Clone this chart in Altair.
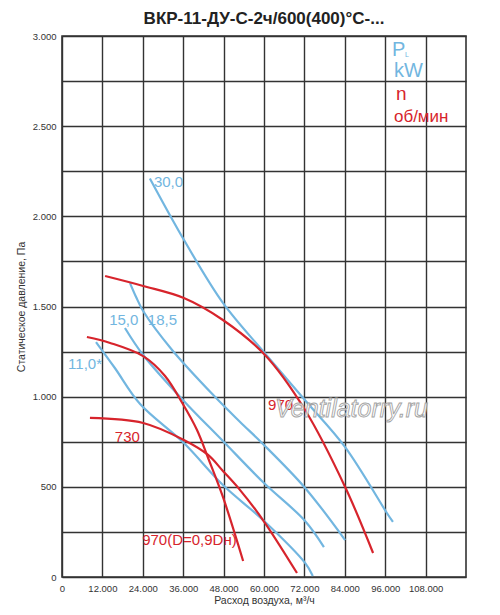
import altair as alt
import pandas as pd

# Air flow (m3/h) and static pressure (Pa)
p30_x = [26100, 36200, 47800, 60300, 72200, 84100, 96500, 98300]
p30_y = [2210, 1870, 1520, 1240, 980, 720, 355, 305]
p185_x = [20200, 22000, 24100, 32700, 45500, 52900, 59400, 72200, 84100]
p185_y = [1630, 1553, 1475, 1259, 998, 860, 743, 494, 205]
p15_x = [18700, 24100, 35900, 47800, 60000, 72200, 77800]
p15_y = [1381, 1231, 982, 754, 521, 311, 166]
p11_x = [10100, 15700, 23200, 36200, 47800, 59700, 72200, 74500]
p11_y = [1303, 1159, 959, 743, 510, 316, 78, 6]
n970_x = [12800, 24100, 36200, 47800, 60300, 72200, 84100, 92400]
n970_y = [1669, 1614, 1547, 1425, 1231, 926, 499, 133]
n970d_x = [7400, 14300, 24100, 30600, 35900, 40100, 43400, 47800, 53800]
n970d_y = [1331, 1298, 1225, 1115, 959, 815, 660, 444, 89]
n730_x = [8300, 24100, 36200, 43400, 47800, 52900, 59700, 69800]
n730_y = [882, 854, 760, 677, 588, 482, 316, 22]

blue_labels = ["30,0", "18,5", "15,0", "11,0*"]
blue_lx = [27300, 25500, 14000, 1800]
blue_ly = [2163, 1397, 1397, 1153]
red_labels = ["730", "970(D=0,9Dн)", "970"]
red_lx = [15700, 23800, 61200]
red_ly = [749, 177, 926]

x_ticks = [0, 12000, 24000, 36000, 48000, 60000, 72000, 84000, 96000, 108000]
y_ticks = [0, 250, 500, 750, 1000, 1250, 1500, 1750, 2000, 2250, 2500, 2750, 3000]

BLUE = "#72b6e0"
RED = "#d7242c"
NARROW = "Liberation Sans Narrow, Arial Narrow, Liberation Sans, Arial"
SANS = "Liberation Sans, Arial"

series = [
    ("P30", "blue", p30_x, p30_y),
    ("P18.5", "blue", p185_x, p185_y),
    ("P15", "blue", p15_x, p15_y),
    ("P11", "blue", p11_x, p11_y),
    ("n970", "red", n970_x, n970_y),
    ("n970d", "red", n970d_x, n970d_y),
    ("n730", "red", n730_x, n730_y),
]
rows = []
for name, kind, xs_, ys_ in series:
    for i, (a, b) in enumerate(zip(xs_, ys_)):
        rows.append({"s": name, "kind": kind, "q": a, "p": b, "i": i})
df = pd.DataFrame(rows)

xs = alt.Scale(domain=[0, 120000], nice=False, zero=False)
ys = alt.Scale(domain=[0, 3000], nice=False, zero=False)

X = alt.X("q:Q", scale=xs, title="Расход воздуха, м³/ч",
          axis=alt.Axis(values=x_ticks, labelExpr="replace(format(datum.value, ','), ',', '.')"))
Y = alt.Y("p:Q", scale=ys, title="Статическое давление, Па",
          axis=alt.Axis(values=y_ticks,
                        labelExpr="datum.value % 500 == 0 ? replace(format(datum.value, ','), ',', '.') : ''"))

def line_layer(kind, color):
    return alt.Chart(df[df.kind == kind]).mark_line(
        color=color, strokeWidth=2.2, interpolate="catmull-rom"
    ).encode(x=X, y=Y, detail="s:N", order="i:Q")

blue = line_layer("blue", BLUE)
red = line_layer("red", RED)

bl = pd.DataFrame({"t": blue_labels, "q": blue_lx, "p": blue_ly})
rl = pd.DataFrame({"t": red_labels, "q": red_lx, "p": red_ly})

blue_txt = alt.Chart(bl).mark_text(
    align="left", baseline="alphabetic", fontSize=15, font=SANS, color=BLUE
).encode(x=alt.X("q:Q", scale=xs), y=alt.Y("p:Q", scale=ys), text="t:N")
red_txt = alt.Chart(rl).mark_text(
    align="left", baseline="alphabetic", fontSize=15, font=NARROW, color=RED
).encode(x=alt.X("q:Q", scale=xs), y=alt.Y("p:Q", scale=ys), text="t:N")

wm = pd.DataFrame({"t": ["Ventilatorry.ru"], "q": [63300], "p": [887]})
wm_txt = alt.Chart(wm).mark_text(
    align="left", baseline="alphabetic", fontSize=25, font=SANS, fontStyle="italic",
    fill="white", fillOpacity=0.75, stroke="#a3a3a3", strokeWidth=0.9
).encode(x=alt.X("q:Q", scale=xs), y=alt.Y("p:Q", scale=ys), text="t:N")

leg_b = pd.DataFrame({"t": ["P", "kW"], "q": [98000, 98600], "p": [2889, 2773]})
leg_bs = pd.DataFrame({"t": ["L"], "q": [101900], "p": [2884]})
leg_r = pd.DataFrame({"t": ["n"], "q": [99200], "p": [2645]})
leg_r2 = pd.DataFrame({"t": ["об/мин"], "q": [98600], "p": [2523]})

def legend_text(d, color, size):
    return alt.Chart(d).mark_text(
        align="left", baseline="alphabetic", fontSize=size, font=NARROW, color=color
    ).encode(x=alt.X("q:Q", scale=xs), y=alt.Y("p:Q", scale=ys), text="t:N")

legend = (legend_text(leg_b, BLUE, 20) + legend_text(leg_bs, BLUE, 7)
          + legend_text(leg_r, RED, 19) + legend_text(leg_r2, RED, 17))

chart = alt.layer(blue, red, blue_txt, red_txt, wm_txt, legend).properties(
    width=404, height=541,
    background="white",
    autosize=alt.AutoSizeParams(type="none"),
    padding={"left": 54, "top": 28, "right": 26, "bottom": 30},
    title=alt.TitleParams("ВКР-11-ДУ-С-2ч/600(400)°С-...", fontSize=17, fontWeight="bold",
                          font=NARROW, color="#222222", offset=3, anchor="middle"),
).configure_view(
    stroke="#333333", strokeWidth=1.6
).configure_axis(
    grid=True, gridColor="#333333", gridWidth=1.4, gridOpacity=1,
    domain=False, ticks=False, labelFlush=False,
    labelFont=NARROW, labelFontSize=9.5, labelColor="#333333", labelPadding=6,
    titleFont=NARROW, titleFontSize=10.5, titleFontWeight="normal", titleColor="#333333",
).configure_axisX(titlePadding=3).configure_axisY(titlePadding=6)

chart.save("out.html", embed_options={"renderer": "svg", "actions": False})
